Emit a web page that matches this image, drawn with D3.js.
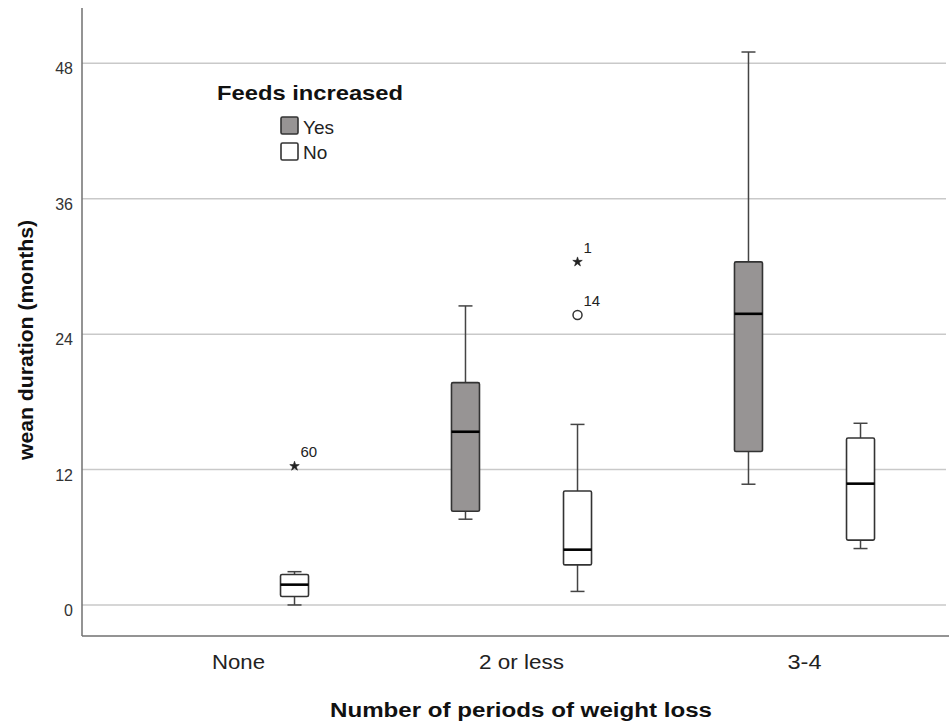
<!DOCTYPE html>
<html>
<head>
<meta charset="utf-8">
<script src="https://cdn.jsdelivr.net/npm/d3@7"></script>
<style>
  body { margin: 0; background: #fff; }
  text { font-family: "Liberation Sans", Arial, sans-serif; }
</style>
</head>
<body>
<svg id="chart" width="949" height="723"></svg>
<script>
const categories = ["None", "2 or less", "3-4"];
const groups = ["Yes", "No"];
const yTicks = [0, 12, 24, 36, 48];

// [category, group, lowWhisker, q1, median, q3, highWhisker]
const boxes = [
  ["None", "No", 0.0, 0.75, 1.8, 2.7, 2.95],
  ["2 or less", "Yes", 7.6, 8.3, 15.35, 19.7, 26.5],
  ["2 or less", "No", 1.2, 3.55, 4.9, 10.1, 16.0],
  ["3-4", "Yes", 10.7, 13.6, 25.8, 30.4, 49.0],
  ["3-4", "No", 5.0, 5.75, 10.75, 14.8, 16.1]
];

// [category, group, value, case label, type]
const outliers = [
  ["None", "No", 12.3, "60", "extreme"],
  ["2 or less", "No", 30.4, "1", "extreme"],
  ["2 or less", "No", 25.7, "14", "outlier"]
];

const fills = { Yes: "#979494", No: "#ffffff" };
// label widths (its font is wider than ours)
const catWidth = { "None": 53, "2 or less": 85, "3-4": 34 };

const svg = d3.select("#chart");
const plotL = 82, plotR = 946, plotT = 8, plotB = 636;

const y = d3.scaleLinear().domain([-2.75, 52.9]).range([plotB, plotT]);
const x = d3.scaleBand().domain(categories).range([97, 946]);
const xg = d3.scalePoint().domain(groups).range([0, x.bandwidth()]).padding(0.763);
const boxW = 28;

// gridlines
svg.append("g").selectAll("line").data(yTicks).join("line")
  .attr("x1", plotL).attr("x2", plotR)
  .attr("y1", d => y(d)).attr("y2", d => y(d))
  .attr("stroke", "#c9c9c9").attr("stroke-width", 1.5);

// y tick labels
svg.append("g").selectAll("text").data(yTicks).join("text")
  .attr("x", 73).attr("y", d => y(d) + 11)
  .attr("text-anchor", "end").attr("font-size", 16).attr("fill", "#333")
  .text(d => d);

// axes lines
svg.append("line").attr("x1", plotL).attr("x2", plotL).attr("y1", plotT).attr("y2", plotB)
  .attr("stroke", "#707070").attr("stroke-width", 1.5);
svg.append("line").attr("x1", plotL).attr("x2", plotR + 3).attr("y1", plotB).attr("y2", plotB)
  .attr("stroke", "#707070").attr("stroke-width", 1.5);

// category labels
svg.append("g").selectAll("text").data(categories).join("text")
  .attr("x", d => x(d) + x.bandwidth() / 2).attr("y", 669)
  .attr("text-anchor", "middle").attr("font-size", 20).attr("fill", "#222")
  .attr("textLength", d => catWidth[d]).attr("lengthAdjust", "spacingAndGlyphs")
  .text(d => d);

// axis titles
svg.append("text").attr("x", 521).attr("y", 717).attr("text-anchor", "middle")
  .attr("font-size", 20).attr("font-weight", "bold").attr("fill", "#111")
  .attr("textLength", 382).attr("lengthAdjust", "spacingAndGlyphs")
  .text("Number of  periods of weight loss");
svg.append("text").attr("transform", "translate(33,340) rotate(-90)").attr("text-anchor", "middle")
  .attr("font-size", 20).attr("font-weight", "bold").attr("fill", "#111")
  .attr("textLength", 240).attr("lengthAdjust", "spacingAndGlyphs")
  .text("wean duration (months)");

const cx = (c, g) => x(c) + xg(g);

// boxes
const bg = svg.append("g").selectAll("g").data(boxes).join("g");
bg.append("line")
  .attr("x1", d => cx(d[0], d[1])).attr("x2", d => cx(d[0], d[1]))
  .attr("y1", d => y(d[2])).attr("y2", d => y(d[6]))
  .attr("stroke", "#444").attr("stroke-width", 1.5);
bg.selectAll(".cap").data(d => [[d, d[2]], [d, d[6]]]).join("line")
  .attr("x1", d => cx(d[0][0], d[0][1]) - 7).attr("x2", d => cx(d[0][0], d[0][1]) + 7)
  .attr("y1", d => y(d[1])).attr("y2", d => y(d[1]))
  .attr("stroke", "#444").attr("stroke-width", 1.5);
bg.append("rect")
  .attr("x", d => cx(d[0], d[1]) - boxW / 2).attr("width", boxW)
  .attr("y", d => y(d[5])).attr("height", d => y(d[3]) - y(d[5]))
  .attr("rx", 1.5)
  .attr("fill", d => fills[d[1]]).attr("stroke", "#333").attr("stroke-width", 1.6);
bg.append("line")
  .attr("x1", d => cx(d[0], d[1]) - boxW / 2).attr("x2", d => cx(d[0], d[1]) + boxW / 2)
  .attr("y1", d => y(d[4])).attr("y2", d => y(d[4]))
  .attr("stroke", "#000").attr("stroke-width", 2.6);

// outliers
const og = svg.append("g").selectAll("g").data(outliers).join("g")
  .attr("transform", d => `translate(${cx(d[0], d[1])},${y(d[2])})`);
og.filter(d => d[4] === "extreme").append("path")
  .attr("d", d3.symbol(d3.symbolStar, 28)())
  .attr("fill", "#222").attr("stroke", "#222").attr("stroke-width", 0.6);
og.filter(d => d[4] === "outlier").append("circle")
  .attr("r", 4.5).attr("fill", "#fff").attr("stroke", "#333").attr("stroke-width", 1.5);
og.append("text").attr("x", 6).attr("y", -9)
  .attr("font-size", 15).attr("fill", "#222").text(d => d[3]);

// legend
const lg = svg.append("g");
lg.append("text").attr("x", 217).attr("y", 100).attr("font-size", 21)
  .attr("font-weight", "bold").attr("fill", "#111")
  .attr("textLength", 186).attr("lengthAdjust", "spacingAndGlyphs")
  .text("Feeds increased");
groups.forEach((g, i) => {
  lg.append("rect").attr("x", 281).attr("y", 117 + i * 26).attr("width", 17).attr("height", 17)
    .attr("rx", 1.5)
    .attr("fill", fills[g]).attr("stroke", "#333").attr("stroke-width", 1.6);
  lg.append("text").attr("x", 303).attr("y", 134 + i * 25).attr("font-size", 19)
    .attr("fill", "#222").text(g);
});
</script>
</body>
</html>
